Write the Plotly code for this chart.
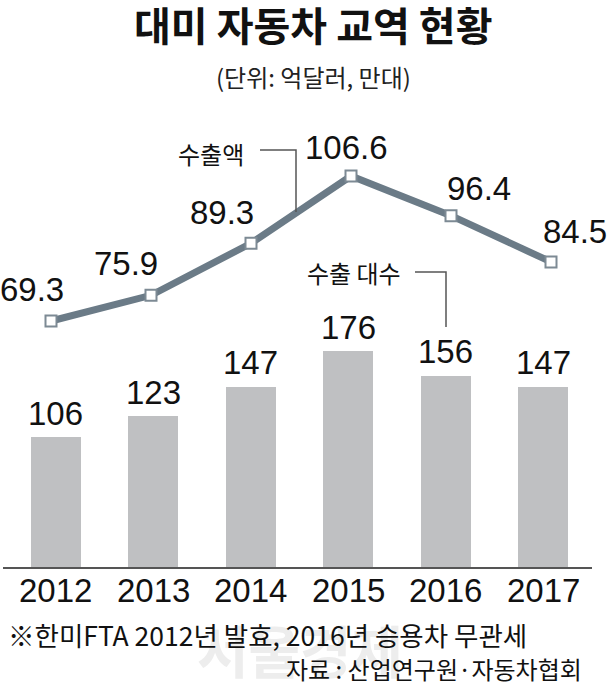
import plotly.graph_objects as go

# ---- data ----
years = ["2012", "2013", "2014", "2015", "2016", "2017"]
export_value = [69.3, 75.9, 89.3, 106.6, 96.4, 84.5]      # 수출액 (억달러)
export_units = [106, 123, 147, 176, 156, 147]             # 수출 대수 (만대)
value_text = ["69.3", "75.9", "89.3", "106.6", "96.4", "84.5"]
unit_text = ["106", "123", "147", "176", "156", "147"]

title = "대미 자동차 교역 현황"
subtitle = "(단위: 억달러, 만대)"
note = "※한미FTA 2012년 발효, 2016년 승용차 무관세"
source = "자료 : 산업연구원·자동차협회"

# ---- layout geometry ----
W, H = 607, 688
L, R, T, B = 3, 15, 110, 121
PW, PH = W - L - R, H - T - B


def px(x):
    return (x - L) / PW


def py(y):
    return (H - B - y) / PH


NUM = "Liberation Sans, Arial, sans-serif"
KR = "Noto Sans CJK KR, Noto Sans, sans-serif"
LINE_C = "#6b7b87"

idx = list(range(len(years)))

fig = go.Figure()
fig.add_trace(go.Bar(
    x=idx, y=export_units, width=0.513,
    marker=dict(color="#bfc0c2", line=dict(width=0)),
    xaxis="x", yaxis="y", hoverinfo="skip", showlegend=False,
))
fig.add_trace(go.Scatter(
    x=idx, y=export_value, mode="lines+markers",
    line=dict(color=LINE_C, width=7),
    marker=dict(symbol="square", size=11, color="white",
                line=dict(color="#7d8a94", width=2)),
    xaxis="x2", yaxis="y2", cliponaxis=False, hoverinfo="skip", showlegend=False,
))


def paper_text(x, y, text, size, xanchor="center", color="#111"):
    return dict(x=px(x), y=py(y), xref="paper", yref="paper", text=text,
                xanchor=xanchor, yanchor="middle", showarrow=False,
                font=dict(family=KR, size=size, color=color))


ann = []
# watermark (drawn first, behind the rest)
ann.append(paper_text(300, 648, "<b>서울경제</b>", 56, color="#ededed"))

# bar value labels
for i, (v, t) in enumerate(zip(export_units, unit_text)):
    ann.append(dict(x=i, y=v, xref="x", yref="y", text=t, showarrow=False,
                    xanchor="center", yanchor="middle", yshift=24,
                    font=dict(family=NUM, size=33, color="#111")))
# category labels under the axis
for i, t in enumerate(years):
    ann.append(dict(x=i, y=py(590), xref="x", yref="paper", text=t, showarrow=False,
                    xanchor="center", yanchor="middle",
                    font=dict(family=NUM, size=33, color="#111")))
# line value labels
shifts = [(-19, 31), (-25, 32), (-29, 31), (-5, 29), (28, 27), (24, 30)]
for i, (v, t) in enumerate(zip(export_value, value_text)):
    dx, dy = shifts[i]
    ann.append(dict(x=i, y=v, xref="x2", yref="y2", text=t, showarrow=False,
                    yanchor="middle", xanchor="center", xshift=dx, yshift=dy,
                    font=dict(family=NUM, size=33, color="#111")))

# titles / labels
ann += [
    paper_text(313, 24, "<b>" + title + "</b>", 40),
    paper_text(313, 76, subtitle, 24, color="#222"),
    paper_text(211, 153, "수출액", 24),
    paper_text(354, 272, "수출 대수", 24),
    paper_text(6, 634, note, 26.5, xanchor="left"),
    paper_text(584, 668, source, 24, xanchor="right"),
]

# leader lines
shapes = [
    dict(type="path", xref="paper", yref="paper",
         path=f"M {px(260)} {py(150)} L {px(296)} {py(150)} L {px(296)} {py(212)}",
         line=dict(color="#555", width=1.5)),
    dict(type="path", xref="paper", yref="paper",
         path=f"M {px(415)} {py(272)} L {px(446)} {py(272)} L {px(446)} {py(327)}",
         line=dict(color="#555", width=1.5)),
]

fig.update_layout(
    width=W, height=H,
    margin=dict(l=L, r=R, t=T, b=B),
    paper_bgcolor="white", plot_bgcolor="white",
    annotations=ann, shapes=shapes,
    bargap=0,
    xaxis=dict(range=[-0.5405, 5.5005], tickvals=idx, showticklabels=False,
               showline=True, linecolor="#555", linewidth=2, ticks="",
               showgrid=False, zeroline=False, fixedrange=True),
    yaxis=dict(range=[0, 372.8], visible=False, fixedrange=True),
    xaxis2=dict(range=[-0.48, 5.41], overlaying="x", visible=False, fixedrange=True),
    yaxis2=dict(range=[6.01, 123.58], overlaying="y", visible=False, fixedrange=True),
)

fig.write_html("out.html", config={"displayModeBar": False},
               post_script="document.body.style.margin='0px';")
